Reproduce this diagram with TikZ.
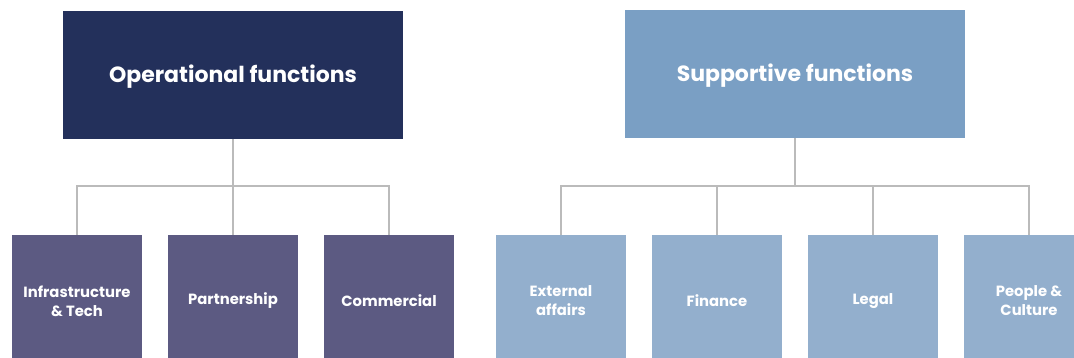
\documentclass[tikz,border=0pt]{standalone}
\usepackage{fontspec}
\setmainfont{Poppins}
\definecolor{opdark}{HTML}{23305B}
\definecolor{opsub}{HTML}{5C5A82}
\definecolor{supmain}{HTML}{7A9FC4}
\definecolor{supsub}{HTML}{93AFCD}
\definecolor{linkgray}{HTML}{BBBBBB}
\begin{document}
\begin{tikzpicture}[x=1pt,y=-1pt,
  headbox/.style={draw=none, minimum width=340pt, minimum height=128pt, inner sep=0pt},
  headtext/.style={text=white, font=\fontsize{22}{26}\selectfont\bfseries},
  unitbox/.style={draw=none, minimum width=130pt, minimum height=132pt, inner sep=0pt,
    text=white, font=\fontsize{14.8}{19}\selectfont\bfseries, align=center},
  link/.style={draw=linkgray, line width=1.3pt}]
\clip (0,0) rectangle (1074,358);
\fill[white] (0,0) rectangle (1074,358);

% Operational branch
\node[headbox, fill=opdark] (ops) at (233,75) {};
\node[headtext] (opslabel) at (233,77) {Operational functions};
\node[unitbox, fill=opsub] (infra) at (77,301) {Infrastructure\\\& Tech};
\node[unitbox, fill=opsub] (part) at (233,301) {Partnership};
\node[unitbox, fill=opsub] (comm) at (389,301) {Commercial};
\coordinate (opsbar) at (233,186);
\draw[link] (ops.south) -- (opsbar);
\draw[link] (infra.north) |- (opsbar) -| (comm.north);
\draw[link] (opsbar) -- (part.north);

% Supportive branch
\node[headbox, fill=supmain] (sup) at (795,74) {};
\node[headtext] (suplabel) at (795,76) {Supportive functions};
\node[unitbox, fill=supsub] (ext) at (561,301) {External\\affairs};
\node[unitbox, fill=supsub] (fin) at (717,301) {Finance};
\node[unitbox, fill=supsub] (legal) at (873,301) {Legal};
\node[unitbox, fill=supsub] (people) at (1029,301) {People \&\\Culture};
\coordinate (supbar) at (795,186);
\draw[link] (sup.south) -- (supbar);
\draw[link] (ext.north) |- (supbar) -| (people.north);
\draw[link] (fin.north) -- (fin.north |- supbar);
\draw[link] (legal.north) -- (legal.north |- supbar);
\end{tikzpicture}
\end{document}
